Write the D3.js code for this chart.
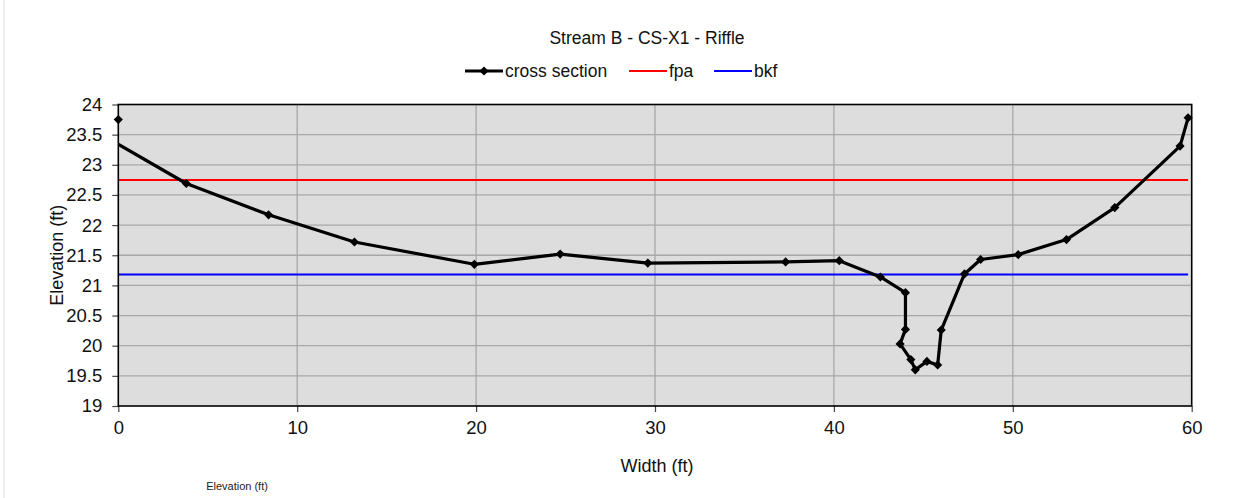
<!DOCTYPE html>
<html>
<head>
<meta charset="utf-8">
<script src="https://cdn.jsdelivr.net/npm/d3@7"></script>
<style>
  body { margin: 0; background: #ffffff; }
  svg { display: block; font-family: "Liberation Sans", Arial, sans-serif; }
</style>
</head>
<body>
<svg id="chart" width="1233" height="498"></svg>
<script>
// ---- data ----
const chartTitle = "Stream B - CS-X1 - Riffle";
const crossX = [0, -1, 3.8, 8.4, 13.2, 19.9, 24.7, 29.6, 37.3, 40.3, 42.6, 44.0, 44.0, 43.7, 44.3, 44.55, 45.2, 45.8, 46.0, 47.3, 48.2, 50.3, 53.0, 55.7, 59.35, 59.8];
const crossY = [23.75, 23.51, 22.69, 22.17, 21.72, 21.35, 21.52, 21.37, 21.39, 21.41, 21.14, 20.88, 20.27, 20.03, 19.77, 19.6, 19.74, 19.68, 20.26, 21.19, 21.43, 21.51, 21.76, 22.29, 23.31, 23.78];
const fpaX = [0, 59.8];
const fpaY = [22.75, 22.75];
const bkfX = [0, 59.8];
const bkfY = [21.18, 21.18];
const xTicks = [0, 10, 20, 30, 40, 50, 60];
const yTicks = [19, 19.5, 20, 20.5, 21, 21.5, 22, 22.5, 23, 23.5, 24];
const seriesNames = ["cross section", "fpa", "bkf"];
const xTitle = "Width (ft)";
const yTitle = "Elevation (ft)";
const footLabel = "Elevation  (ft)";

// ---- layout ----
const svg = d3.select("#chart");
const L = 118.3, R = 1191.7, T = 104.5, B = 406;
const x = d3.scaleLinear().domain([0, 60]).range([L, R]);
const y = d3.scaleLinear().domain([19, 24]).range([B, T]);

// faint chart border on the left
svg.append("line").attr("x1", 4).attr("x2", 4).attr("y1", 0).attr("y2", 498)
  .attr("stroke", "#dcdcdc").attr("stroke-width", 1);

// plot background
svg.append("rect").attr("x", L).attr("y", T).attr("width", R - L).attr("height", B - T)
  .attr("fill", "#dddddd");

// gridlines
const grid = svg.append("g").attr("class", "grid");
grid.selectAll("line.h").data(yTicks.filter(d => d > 19 && d < 24)).enter().append("line")
  .attr("x1", L).attr("x2", R).attr("y1", d => y(d)).attr("y2", d => y(d))
  .attr("stroke", "#a8a8a8").attr("stroke-width", 1.3);
grid.selectAll("line.v").data(xTicks.filter(d => d > 0 && d < 60)).enter().append("line")
  .attr("y1", T).attr("y2", B).attr("x1", d => x(d)).attr("x2", d => x(d))
  .attr("stroke", "#a8a8a8").attr("stroke-width", 1.3);

// axes
const yAxis = svg.append("g").attr("transform", `translate(${L},0)`)
  .call(d3.axisLeft(y).tickValues(yTicks).tickSize(6).tickPadding(10).tickFormat(d => String(d)));
const xAxis = svg.append("g").attr("transform", `translate(0,${B})`)
  .call(d3.axisBottom(x).tickValues(xTicks).tickSize(6).tickPadding(9).tickFormat(d => String(d)));
[yAxis, xAxis].forEach(a => {
  a.select(".domain").remove();
  a.selectAll(".tick line").attr("stroke", "#444").attr("stroke-width", 1.2);
  a.selectAll(".tick text").attr("fill", "#111").style("font-size", "18.5px")
    .style("font-family", "'Liberation Sans', Arial, sans-serif");
});

// clip
svg.append("clipPath").attr("id", "plotclip").append("rect")
  .attr("x", L).attr("y", T - 2).attr("width", R - L).attr("height", B - T + 4);

// horizontal reference lines
const line = d3.line().x(d => x(d[0])).y(d => y(d[1]));
svg.append("path").datum(d3.zip(fpaX, fpaY)).attr("d", line)
  .attr("fill", "none").attr("stroke", "#ff0000").attr("stroke-width", 2);
svg.append("path").datum(d3.zip(bkfX, bkfY)).attr("d", line)
  .attr("fill", "none").attr("stroke", "#0000ff").attr("stroke-width", 2);

// cross section
const cross = d3.zip(crossX, crossY);
svg.append("path").datum(cross).attr("d", line).attr("clip-path", "url(#plotclip)")
  .attr("fill", "none").attr("stroke", "#000").attr("stroke-width", 3.2)
  .attr("stroke-linejoin", "round");
const diamond = d3.symbol().type(d3.symbolSquare).size(42);
svg.selectAll("path.mk").data(cross.filter(d => d[0] >= 0)).enter().append("path")
  .attr("class", "mk").attr("d", diamond)
  .attr("transform", d => `translate(${x(d[0])},${y(d[1])}) rotate(45)`).attr("fill", "#000");

// plot border
svg.append("rect").attr("x", L).attr("y", T).attr("width", R - L).attr("height", B - T)
  .attr("fill", "none").attr("stroke", "#000").attr("stroke-width", 1.6);

// title
svg.append("text").attr("x", 647).attr("y", 44).attr("text-anchor", "middle")
  .style("font-size", "17.5px").attr("fill", "#111").text(chartTitle);

// legend
const lg = svg.append("g");
const legendItems = [
  {name: seriesNames[0], color: "#000", w: 3.2, x0: 465, x1: 503, marker: true},
  {name: seriesNames[1], color: "#ff0000", w: 2, x0: 629, x1: 667, marker: false},
  {name: seriesNames[2], color: "#0000ff", w: 2, x0: 714, x1: 752, marker: false}
];
legendItems.forEach(it => {
  lg.append("line").attr("x1", it.x0).attr("x2", it.x1).attr("y1", 71).attr("y2", 71)
    .attr("stroke", it.color).attr("stroke-width", it.w);
  if (it.marker) lg.append("path").attr("d", diamond)
    .attr("transform", `translate(${(it.x0 + it.x1) / 2},71) rotate(45)`).attr("fill", "#000");
  lg.append("text").attr("x", it.x1 + 2).attr("y", 77).style("font-size", "17.5px")
    .attr("fill", "#111").text(it.name);
});

// axis titles
svg.append("text").attr("x", 657).attr("y", 472).attr("text-anchor", "middle")
  .style("font-size", "18px").attr("fill", "#111").text(xTitle);
svg.append("text").attr("transform", `translate(63,${(T + B) / 2}) rotate(-90)`)
  .attr("text-anchor", "middle").style("font-size", "18px").attr("fill", "#111").text(yTitle);
svg.append("text").attr("x", 237).attr("y", 490).attr("text-anchor", "middle")
  .style("font-size", "11px").attr("fill", "#222").text(footLabel);
</script>
</body>
</html>
